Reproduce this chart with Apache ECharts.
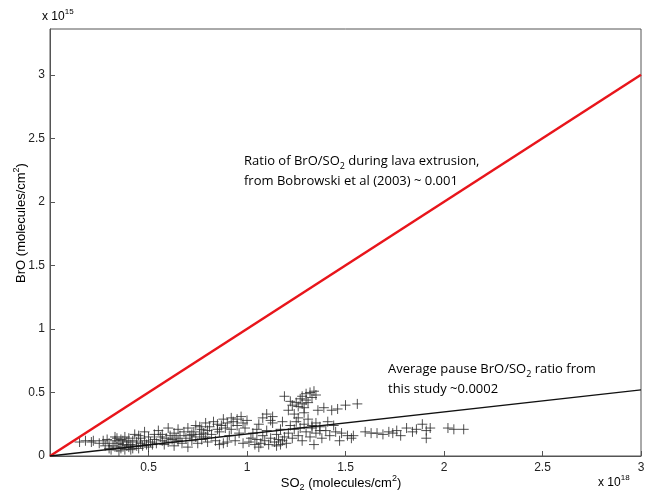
<!DOCTYPE html>
<html>
<head>
<meta charset="utf-8">
<script src="https://cdn.jsdelivr.net/npm/echarts@6/dist/echarts.min.js"></script>
<style>
  html, body { margin: 0; padding: 0; background: #fff; }
  #chart { width: 646px; height: 496px; }
</style>
</head>
<body>
<div id="chart"></div>
<script>
// SO2 in 1e18 molecules/cm2, BrO in 1e15 molecules/cm2
var xTicks = [0, 0.5, 1, 1.5, 2, 2.5, 3];
var yTicks = [0, 0.5, 1, 1.5, 2, 2.5, 3];

// red reference line (ratio 0.001) and black fitted line (~0.0002)
var bobrowskiLine = [[0, 0], [3, 3]];
var pauseLine = [[0, 0], [3, 0.52]];

var pausePoints = [
  [0.15,0.11],[0.18,0.12],[0.21,0.11],[0.22,0.12],[0.25,0.10],[0.27,0.12],[0.28,0.08],[0.29,0.13],[0.30,0.06],[0.30,0.10],
  [0.31,0.05],[0.32,0.08],[0.33,0.12],[0.33,0.15],[0.34,0.07],[0.35,0.10],[0.35,0.04],[0.36,0.13],[0.36,0.06],[0.37,0.09],
  [0.38,0.15],[0.38,0.05],[0.39,0.11],[0.40,0.07],[0.40,0.14],[0.41,0.09],[0.42,0.06],[0.42,0.12],[0.43,0.17],[0.44,0.08],
  [0.44,0.11],[0.45,0.06],[0.46,0.10],[0.46,0.14],[0.47,0.08],[0.48,0.12],[0.48,0.19],[0.49,0.09],[0.50,0.07],[0.50,0.15],
  [0.34,0.14],[0.37,0.12],[0.41,0.05],[0.45,0.16],[0.39,0.08],
  [0.51,0.11],[0.52,0.09],[0.53,0.17],[0.53,0.13],[0.54,0.10],[0.55,0.20],[0.56,0.15],[0.57,0.12],[0.57,0.17],[0.58,0.09],
  [0.59,0.14],[0.60,0.22],[0.60,0.11],[0.61,0.16],[0.62,0.13],[0.63,0.18],[0.63,0.08],[0.64,0.14],[0.65,0.21],[0.65,0.12],
  [0.66,0.16],[0.67,0.10],[0.68,0.19],[0.69,0.14],[0.70,0.22],[0.70,0.07],[0.71,0.16],[0.72,0.12],[0.73,0.19],[0.74,0.15],
  [0.74,0.24],[0.75,0.10],[0.76,0.17],[0.77,0.21],[0.77,0.13],[0.78,0.18],[0.79,0.26],[0.79,0.15],[0.80,0.11],[0.80,0.20],
  [0.72,0.17],[0.76,0.23],
  [0.81,0.23],[0.82,0.17],[0.83,0.27],[0.84,0.12],[0.85,0.21],[0.85,0.25],[0.86,0.19],[0.87,0.24],[0.88,0.10],[0.88,0.29],
  [0.89,0.22],[0.90,0.26],[0.91,0.16],[0.92,0.30],[0.92,0.21],[0.93,0.27],[0.94,0.12],[0.95,0.29],[0.95,0.24],[0.96,0.18],
  [0.97,0.31],[0.98,0.26],[0.98,0.10],[0.99,0.22],[1.00,0.28],[0.90,0.11],[0.86,0.09],
  [1.01,0.11],[1.02,0.14],[1.03,0.18],[1.04,0.09],[1.05,0.21],[1.05,0.13],[1.06,0.25],[1.07,0.10],[1.08,0.16],[1.08,0.30],
  [1.09,0.12],[1.10,0.33],[1.10,0.20],[1.11,0.09],[1.12,0.14],[1.13,0.31],[1.13,0.26],[1.14,0.11],[1.15,0.17],[1.15,0.08],
  [1.16,0.13],[1.17,0.21],[1.18,0.12],[1.18,0.27],[1.19,0.15],[1.19,0.47],[1.20,0.10],[1.12,0.28],[1.06,0.07],[1.17,0.09],
  [1.21,0.36],[1.22,0.43],[1.23,0.40],[1.24,0.33],[1.25,0.42],[1.26,0.39],[1.27,0.45],[1.28,0.41],[1.28,0.47],[1.29,0.38],
  [1.30,0.49],[1.30,0.44],[1.31,0.42],[1.32,0.50],[1.33,0.46],[1.34,0.51],[1.35,0.48],[1.26,0.30],[1.29,0.34],
  [1.21,0.18],[1.22,0.24],[1.23,0.14],[1.24,0.21],[1.25,0.27],[1.26,0.16],[1.27,0.22],[1.28,0.12],[1.29,0.25],[1.30,0.19],
  [1.31,0.29],[1.32,0.15],[1.33,0.22],[1.34,0.09],[1.35,0.26],[1.35,0.18],[1.36,0.36],[1.37,0.23],[1.38,0.14],[1.39,0.38],
  [1.40,0.20],[1.41,0.27],[1.42,0.16],[1.43,0.36],[1.44,0.24],[1.45,0.19],[1.46,0.37],[1.47,0.12],[1.48,0.18],[1.50,0.40],
  [1.51,0.16],[1.53,0.14],[1.56,0.41],[1.33,0.24],[1.37,0.20],
  [1.54,0.16],[1.60,0.19],[1.63,0.18],[1.66,0.18],[1.69,0.17],[1.72,0.19],[1.76,0.20],[1.78,0.16],[1.81,0.22],[1.84,0.19],
  [1.89,0.25],[1.91,0.20],[1.91,0.14],[1.93,0.22],[2.02,0.22],[2.05,0.21],[2.10,0.21],[1.74,0.18],[1.86,0.21]
];

var chart = echarts.init(document.getElementById('chart'));
var font = 'Liberation Sans, Arial, sans-serif';
var noteFont = 'Open Sans, sans-serif';

function tickLabel(v) {
  // show the same short numbers as the figure
  return yTicks.indexOf(v) >= 0 ? String(v) : '';
}

var supSub = {
  base: { fontSize: 12, fontFamily: font, color: '#222', lineHeight: 18, verticalAlign: 'middle' },
  sup: { fontSize: 8, fontFamily: font, color: '#222', lineHeight: 18, verticalAlign: 'top' },
  sub: { fontSize: 8, fontFamily: font, color: '#222', lineHeight: 18, verticalAlign: 'bottom' }
};
var nameRich = {
  base: { fontSize: 13, fontFamily: font, color: '#222', lineHeight: 18, verticalAlign: 'middle' },
  sup: { fontSize: 9, fontFamily: font, color: '#222', lineHeight: 18, verticalAlign: 'top' },
  sub: { fontSize: 9, fontFamily: font, color: '#222', lineHeight: 18, verticalAlign: 'bottom' }
};
var noteRich = {
  base: { fontSize: 13, fontFamily: noteFont, color: '#222', lineHeight: 20, verticalAlign: 'middle' },
  sub: { fontSize: 9, fontFamily: noteFont, color: '#222', lineHeight: 20, verticalAlign: 'bottom' }
};

chart.setOption({
  animation: false,
  backgroundColor: '#fff',
  grid: {
    left: 50, right: 5, top: 29, bottom: 40, containLabel: false, outerBoundsMode: 'none',
    show: true, borderColor: '#555', borderWidth: 1
  },
  xAxis: {
    type: 'value', min: 0, max: 3, interval: 0.5,
    axisLine: { lineStyle: { color: '#555' } },
    axisTick: { inside: true, length: 5, lineStyle: { color: '#555' } },
    splitLine: { show: false },
    axisLabel: {
      color: '#222', fontSize: 12, fontFamily: font, margin: 6,
      formatter: function (v) { return v === 0 ? '' : tickLabel(v); }
    }
  },
  yAxis: {
    type: 'value', min: 0, max: 3.36, interval: 0.5,
    axisLine: { lineStyle: { color: '#555' } },
    axisTick: { inside: true, length: 5, lineStyle: { color: '#555' } },
    splitLine: { show: false },
    axisLabel: {
      color: '#222', fontSize: 12, fontFamily: font, margin: 5,
      showMaxLabel: false, formatter: tickLabel
    }
  },
  graphic: [
    { type: 'text', left: 42, top: 8, style: { text: '{base|x 10}{sup|15}', rich: supSub } },
    { type: 'text', left: 598, top: 474, style: { text: '{base|x 10}{sup|18}', rich: supSub } },
    { type: 'text', x: 341, y: 483, style: {
      text: '{base|SO}{sub|2}{base| (molecules/cm}{sup|2}{base|)}',
      rich: nameRich, align: 'center', verticalAlign: 'middle' } },
    { type: 'text', x: 21, y: 223, rotation: Math.PI / 2, style: {
      text: '{base|BrO (molecules/cm}{sup|2}{base|)}',
      rich: nameRich, align: 'center', verticalAlign: 'middle' } },
    { type: 'text', left: 244, top: 151, style: {
      text: '{base|Ratio of BrO/SO}{sub|2}{base| during lava extrusion,}\n{base|from Bobrowski et al (2003) ~ 0.001}',
      rich: noteRich, lineHeight: 25 } },
    { type: 'text', left: 388, top: 359, style: {
      text: '{base|Average pause BrO/SO}{sub|2}{base| ratio from}\n{base|this study ~0.0002}',
      rich: noteRich, lineHeight: 25 } }
  ],
  series: [
    {
      type: 'scatter', data: pausePoints, z: 2,
      symbol: 'path://M5,0 L5,10 M0,5 L10,5', symbolSize: 10,
      itemStyle: { color: 'none', borderColor: '#262626', borderWidth: 1 }
    },
    {
      type: 'line', data: bobrowskiLine, showSymbol: false, z: 3,
      lineStyle: { color: '#e8151b', width: 2.5 }
    },
    {
      type: 'line', data: pauseLine, showSymbol: false, z: 3,
      lineStyle: { color: '#111', width: 1.3 }
    }
  ]
});
</script>
</body>
</html>
